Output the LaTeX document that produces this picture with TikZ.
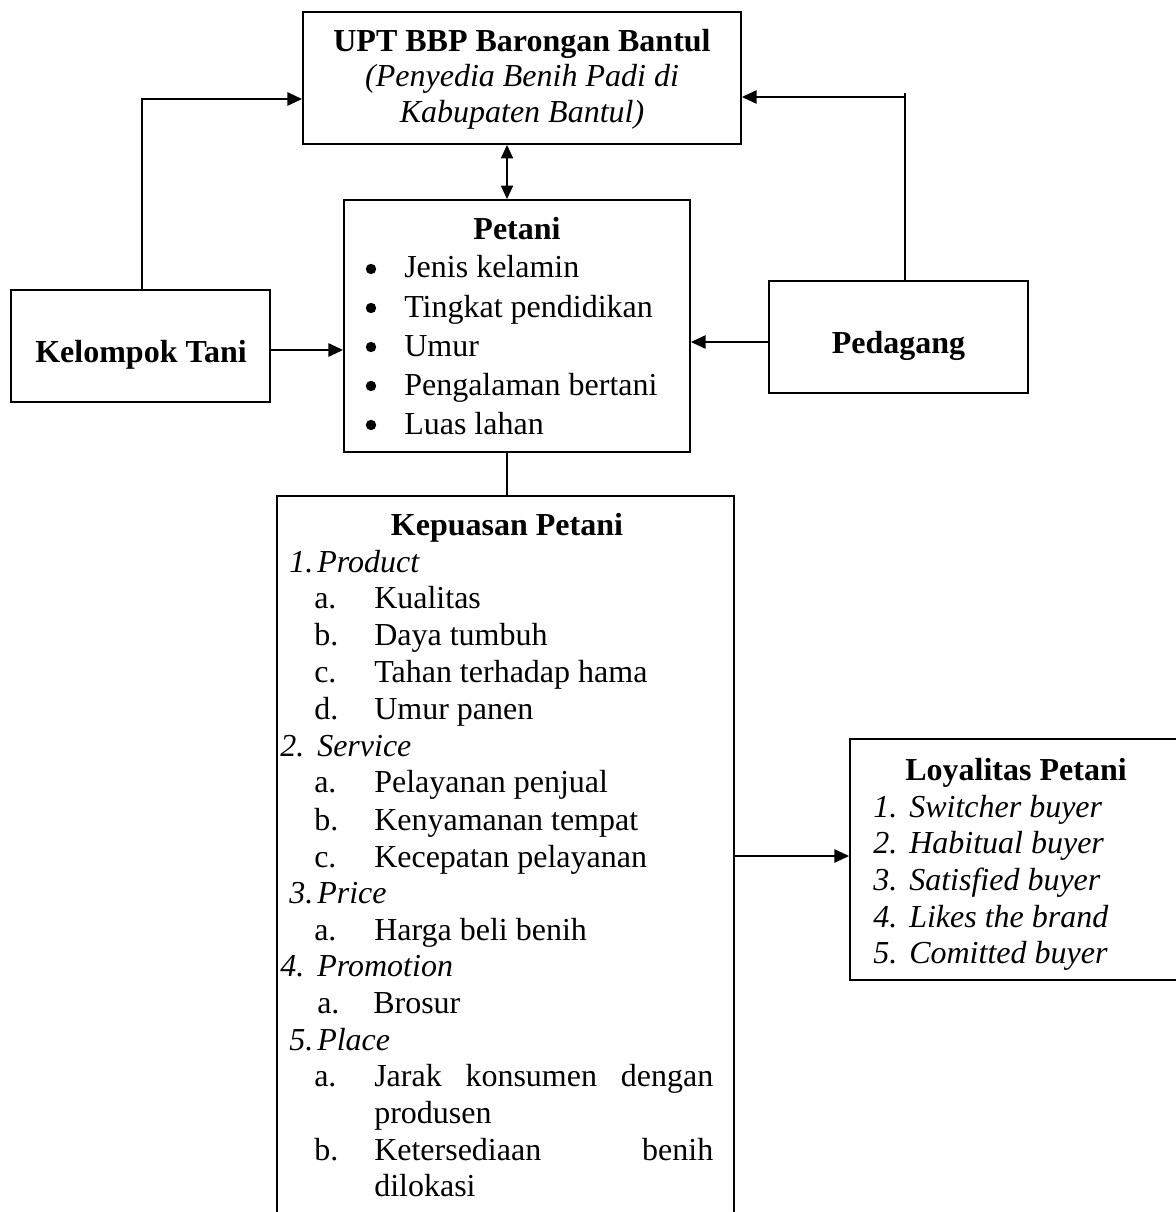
\documentclass[tikz,border=0pt]{standalone}
\usepackage{fontspec}
\setmainfont{Liberation Serif}
\usetikzlibrary{arrows.meta}

\begin{document}
\begin{tikzpicture}[x=0.75pt, y=-0.75pt,
        kotak/.style={draw, line width=1.4pt, inner sep=0pt},
        garis/.style={line width=1.2pt},
        panah/.style={line width=1.2pt, -{Triangle[length=11pt,width=10pt]}},
        panahdua/.style={line width=1.2pt, {Triangle[length=10pt,width=9pt]}-{Triangle[length=10pt,width=9pt]}},
        teks/.style={anchor=base west, inner sep=0pt, font=\fontsize{24}{28}\selectfont},
        tengah/.style={anchor=base, inner sep=0pt, font=\fontsize{24}{28}\selectfont},
        judul/.style={tengah, font=\fontsize{24}{28}\selectfont\bfseries},
        titik/.style={circle, fill, inner sep=0pt, minimum size=7.8pt}]

        % Bingkai gambar
        \useasboundingbox (0,0) rectangle (1176,1212);
        \clip (0,0) rectangle (1176,1212);

        % Kotak-kotak
        \node[kotak, minimum width=328.5pt, minimum height=99pt] (upt) at (522,78) {};
        \node[kotak, minimum width=259.5pt, minimum height=189pt] (pet) at (517,326) {};
        \node[kotak, minimum width=194.25pt, minimum height=84pt] (kt) at (140.5,346) {};
        \node[kotak, minimum width=194.25pt, minimum height=84pt] (ped) at (898.5,337) {};
        \node[kotak, minimum width=342.75pt, minimum height=574.5pt] (kep) at (505.5,879) {};
        \node[kotak, minimum width=285pt, minimum height=180.75pt] (loy) at (1040,859.5) {};

        % Titik bantu untuk garis
        \coordinate (poros) at (507,0);
        \coordinate (ktsudut) at (142,99);
        \coordinate (pedsudut) at (905,97);
        \coordinate (pedujung) at (905,93);
        \coordinate (bKT) at (0,350);
        \coordinate (bPD) at (0,342);
        \coordinate (bLY) at (0,856);

        % Garis dan panah
        \draw[panah] (kt.north -| ktsudut) -- (ktsudut) -- (upt.west |- ktsudut);
        \draw[garis] (ped.north -| pedujung) -- (pedujung);
        \draw[panah] (pedsudut) -- (upt.east |- pedsudut);
        \draw[panahdua] (upt.south -| poros) -- (pet.north -| poros);
        \draw[panah] (kt.east |- bKT) -- (pet.west |- bKT);
        \draw[panah] (ped.west |- bPD) -- (pet.east |- bPD);
        \draw[garis] (pet.south -| poros) -- (kep.north -| poros);
        \draw[panah] (kep.east |- bLY) -- (loy.west |- bLY);

        % Teks UPT
        \node[judul] (tupt) at (522,52) {UPT BBP Barongan Bantul};
        \node[tengah] (tupt2) at (522,87) {\itshape (Penyedia Benih Padi di};
        \node[tengah] (tupt3) at (522,123) {\itshape Kabupaten Bantul)};

        % Teks Kelompok Tani dan Pedagang
        \node[judul] (tkt) at (141,362) {Kelompok Tani};
        \node[judul] (tped) at (898.5,353) {Pedagang};

        % Teks Petani
        \node[judul] (tpet) at (517,240) {Petani};
        \node[titik] (b1) at (371,269) {};
        \node[titik] (b2) at (371,308) {};
        \node[titik] (b3) at (371,347) {};
        \node[titik] (b4) at (371,386) {};
        \node[titik] (b5) at (371,425) {};
        \node[teks] (p1) at (404,278) {Jenis kelamin};
        \node[teks] (p2) at (404,317) {Tingkat pendidikan};
        \node[teks] (p3) at (404,356) {Umur};
        \node[teks] (p4) at (404,395) {Pengalaman bertani};
        \node[teks] (p5) at (404,434) {Luas lahan};

        % Teks Kepuasan Petani
        \node[judul] (tkep) at (507,535) {Kepuasan Petani};
        \node[teks] (k1) at (289,572) {\itshape\makebox[21pt][l]{1.}Product};
        \node[teks] (k1a) at (314,608) {\makebox[45pt][l]{a.}Kualitas};
        \node[teks] (k1b) at (314,645) {\makebox[45pt][l]{b.}Daya tumbuh};
        \node[teks] (k1c) at (314,682) {\makebox[45pt][l]{c.}Tahan terhadap hama};
        \node[teks] (k1d) at (314,719) {\makebox[45pt][l]{d.}Umur panen};
        \node[teks] (k2) at (280,756) {\itshape\makebox[27.75pt][l]{2.}Service};
        \node[teks] (k2a) at (314,792) {\makebox[45pt][l]{a.}Pelayanan penjual};
        \node[teks] (k2b) at (314,830) {\makebox[45pt][l]{b.}Kenyamanan tempat};
        \node[teks] (k2c) at (314,867) {\makebox[45pt][l]{c.}Kecepatan pelayanan};
        \node[teks] (k3) at (289,903) {\itshape\makebox[21pt][l]{3.}Price};
        \node[teks] (k3a) at (314,940) {\makebox[45pt][l]{a.}Harga beli benih};
        \node[teks] (k4) at (280,976) {\itshape\makebox[27.75pt][l]{4.}Promotion};
        \node[teks] (k4a) at (317,1013) {\makebox[42pt][l]{a.}Brosur};
        \node[teks] (k5) at (289,1050) {\itshape\makebox[21pt][l]{5.}Place};
        \node[teks] (k5a) at (314,1086) {\makebox[45pt][l]{a.}\makebox[254.25pt][s]{Jarak konsumen dengan}};
        \node[teks] (k5a2) at (374,1123) {produsen};
        \node[teks] (k5b) at (314,1160) {\makebox[45pt][l]{b.}\makebox[254.25pt][s]{Ketersediaan benih}};
        \node[teks] (k5b2) at (374,1196) {dilokasi};

        % Teks Loyalitas Petani
        \node[judul] (tloy) at (1016,780) {Loyalitas Petani};
        \node[teks] (l1) at (873,817) {\itshape\makebox[27pt][l]{1.}Switcher buyer};
        \node[teks] (l2) at (873,853) {\itshape\makebox[27pt][l]{2.}Habitual buyer};
        \node[teks] (l3) at (873,890) {\itshape\makebox[27pt][l]{3.}Satisfied buyer};
        \node[teks] (l4) at (873,927) {\itshape\makebox[27pt][l]{4.}Likes the brand};
        \node[teks] (l5) at (873,963) {\itshape\makebox[27pt][l]{5.}Comitted buyer};
    \end{tikzpicture}
\end{document}
